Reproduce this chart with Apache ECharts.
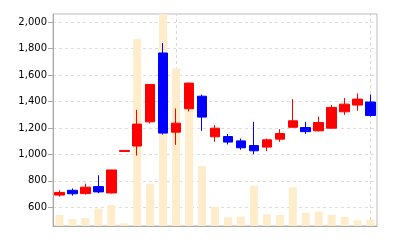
<!DOCTYPE html>
<html>
<head>
<meta charset="utf-8">
<script src="https://cdn.jsdelivr.net/npm/echarts@6/dist/echarts.min.js"></script>
<style>html,body{margin:0;padding:0;background:#fff}#c{width:400px;height:240px}</style>
</head>
<body>
<div id="c"></div>
<script>
var categories = ['1','2','3','4','5','6','7','8','9','10','11','12','13','14','15','16','17','18','19','20','21','22','23','24','25'];
var opens  = [692, 728, 703, 756, 708, 1022, 1063, 1246, 1767, 1168, 1345, 1440, 1133, 1135, 1102, 1067, 1055, 1115, 1205, 1203, 1178, 1198, 1322, 1373, 1396];
var closes = [712, 702, 752, 716, 882, 1030, 1229, 1529, 1161, 1236, 1539, 1282, 1198, 1093, 1050, 1027, 1110, 1158, 1254, 1172, 1241, 1355, 1380, 1418, 1294];
var lows   = [680, 688, 696, 706, 704, 1022, 991, 1234, 1150, 1072, 1324, 1178, 1095, 1075, 1035, 1001, 1024, 1095, 1205, 1155, 1173, 1196, 1299, 1330, 1286];
var highs  = [728, 742, 778, 842, 882, 1030, 1337, 1532, 1842, 1347, 1542, 1452, 1221, 1155, 1120, 1246, 1120, 1191, 1418, 1246, 1286, 1373, 1426, 1460, 1453];
var volumes = [110, 70, 80, 173, 210, 27, 1867, 423, 2120, 1577, 1250, 600, 193, 87, 93, 403, 117, 110, 387, 133, 143, 113, 90, 57, 63];
var markedIdx = [9, 24];

var candleData = categories.map(function (c, i) { return [opens[i], closes[i], lows[i], highs[i]]; });
var chart = echarts.init(document.getElementById('c'), null, {renderer: 'canvas'});
var markFn = function (i) { return markedIdx.indexOf(i) >= 0; };
chart.setOption({
  animation: false,
  backgroundColor: '#fff',
  grid: {left: 53, right: 23, top: 14, bottom: 14, show: true, borderColor: '#bbb', borderWidth: 1, backgroundColor: 'transparent'},
  xAxis: {
    type: 'category', data: categories, boundaryGap: true,
    axisLine: {lineStyle: {color: '#aaa'}},
    axisTick: {alignWithLabel: true, interval: markFn, length: 4, lineStyle: {color: '#aaa'}},
    axisLabel: {show: false},
    splitLine: {show: false}
  },
  yAxis: [{
    type: 'value', min: 458, max: 2062, splitNumber: 8, scale: true,
    axisLine: {show: true, lineStyle: {color: '#aaa'}},
    axisTick: {show: true, length: 5, lineStyle: {color: '#aaa'}},
    axisLabel: {showMinLabel: false, showMaxLabel: false, color: '#000', fontFamily: 'DejaVu Sans', fontSize: 10, margin: 6,
      formatter: function (v) { return v.toLocaleString('en-US'); }},
    splitLine: {show: true, lineStyle: {color: '#ddd', type: [3, 3]}}
  }, {
    type: 'value', min: 0, max: 'dataMax', show: false, splitLine: {show: false}
  }],
  series: [{
    type: 'bar', yAxisIndex: 1, data: volumes, barWidth: 8, z: 1,
    itemStyle: {color: '#feeccb'},
    markLine: {
      silent: true, symbol: 'none', label: {show: false}, z: 0,
      lineStyle: {color: '#d8d8d8', type: [3, 3], width: 1},
      data: markedIdx.map(function (i) { return {xAxis: categories[i]}; })
    }
  }, {
    type: 'candlestick', data: candleData, barWidth: 10, z: 3,
    itemStyle: {color: '#ff0000', color0: '#0000ff', borderColor: '#ff0000', borderColor0: '#0000ff', borderWidth: 1}
  }]
});
</script>
</body>
</html>
